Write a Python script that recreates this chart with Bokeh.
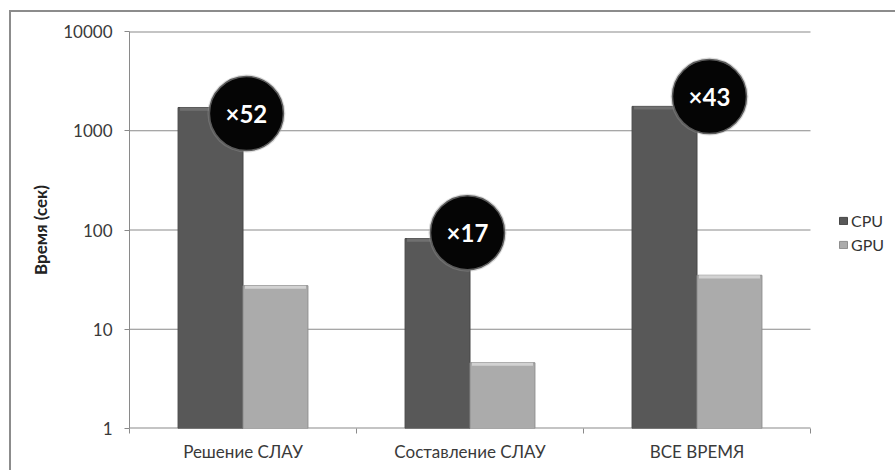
import numpy as np
from bokeh.plotting import figure
from bokeh.models import (Range1d, FixedTicker, NumeralTickFormatter, Legend, LegendItem,
                          ColumnDataSource)
from bokeh.core.properties import value
from bokeh.embed import file_html
from bokeh.resources import INLINE

# ---- data ----
categories = ["Решение СЛАУ", "Составление СЛАУ", "ВСЕ ВРЕМЯ"]
cpu_times = [1715, 82, 1760]
gpu_times = [27.5, 4.6, 35]
speedup_labels = ["×52", "×17", "×43"]
badge_x_offset = [0.015, -0.011, 0.055]   # badge position relative to category center
badge_y = [1490, 94, 2210]
y_ticks = [1, 10, 100, 1000, 10000]
series_names = ["CPU", "GPU"]

FONT = "Lato"
GRID = "#8a8a8a"
bar_w = 0.286
n = len(categories)
centers = np.arange(n) + 0.5

# layout (pixels)
W, H = 895, 470
BL, BR, BT, BB = 129, 2, 31, 42
plot_w = 681                      # width of the category area
frame_w = W - BL - BR
x_end = n * frame_w / plot_w      # extra room on the right holds the legend

p = figure(width=W, height=H, output_backend="svg", toolbar_location=None,
           y_axis_type="log", x_range=Range1d(0, x_end), y_range=Range1d(1, 10000),
           min_border_left=BL, min_border_right=BR, min_border_top=BT, min_border_bottom=BB)
p.styles = {
    "background": "linear-gradient(#8c8c8c,#8c8c8c) 9px 10px / 2px 100% no-repeat, "
                  "linear-gradient(#8c8c8c,#8c8c8c) 9px 10px / 100% 2px no-repeat, white",
}
p.outline_line_color = None
p.background_fill_color = None
p.border_fill_color = None

# grid lines limited to category area
p.segment(x0=0, x1=n, y0=y_ticks[1:-1], y1=y_ticks[1:-1], line_color=GRID, line_width=1)
p.segment(x0=0, x1=n, y0=[y_ticks[-1], y_ticks[0]], y1=[y_ticks[-1], y_ticks[0]],
          line_color=GRID, line_width=2)

# bars
cpu_src = ColumnDataSource(dict(x=centers - bar_w / 2, top=cpu_times))
gpu_src = ColumnDataSource(dict(x=centers + bar_w / 2, top=gpu_times))
r_cpu = p.vbar(x="x", top="top", bottom=1, width=bar_w, source=cpu_src,
               fill_color="#585858", line_color="#474747", line_width=1)
r_gpu = p.vbar(x="x", top="top", bottom=1, width=bar_w, source=gpu_src,
               fill_color="#ababab", line_color="#8e8e8e", line_width=1)
# bevel highlights on bar tops
p.vbar(x=centers - bar_w / 2, top=cpu_times, bottom=[v * 0.93 for v in cpu_times],
       width=bar_w * 0.94, fill_color="#707070", line_color=None)
p.vbar(x=centers + bar_w / 2, top=gpu_times, bottom=[v * 0.93 for v in gpu_times],
       width=bar_w * 0.94, fill_color="#d2d2d2", line_color=None)

# badges
bx = [c + o for c, o in zip(centers, badge_x_offset)]
p.scatter(x=bx, y=badge_y, size=78, marker="circle", fill_color="#9a9a9a", fill_alpha=0.35,
          line_color=None)
p.scatter(x=bx, y=badge_y, size=74, marker="circle", fill_color="#050505",
          line_color="#5a5a5a", line_width=1.5)
p.text(x=bx, y=badge_y, text=speedup_labels, text_color="white", text_align="center",
       text_baseline="middle", text_font=value(FONT), text_font_style="bold",
       text_font_size="24px")

# axes
p.yaxis.ticker = FixedTicker(ticks=y_ticks)
p.yaxis.formatter = NumeralTickFormatter(format="0")
p.yaxis.axis_label = "Время (сек)"
p.yaxis.axis_label_text_font = FONT
p.yaxis.axis_label_text_font_style = "bold"
p.yaxis.axis_label_text_font_size = "17px"
p.yaxis.axis_label_text_color = "#222222"
p.yaxis.axis_label_standoff = 9
p.yaxis.major_label_text_font = FONT
p.yaxis.major_label_text_font_size = "17px"
p.yaxis.major_label_text_color = "#3a3a3a"
p.yaxis.major_label_standoff = 12
p.yaxis.major_tick_out = 5
p.yaxis.major_tick_in = 0
p.yaxis.minor_tick_line_color = None
p.yaxis.axis_line_color = GRID
p.yaxis.major_tick_line_color = GRID

p.xaxis.ticker = FixedTicker(ticks=list(centers), minor_ticks=list(range(n + 1)))
p.xaxis.major_label_overrides = {float(c): cat for c, cat in zip(centers, categories)}
p.xaxis.major_label_text_font = FONT
p.xaxis.major_label_text_font_size = "17px"
p.xaxis.major_label_text_color = "#3a3a3a"
p.xaxis.major_label_standoff = 7
p.xaxis.major_tick_line_color = None
p.xaxis.major_tick_out = 0
p.xaxis.minor_tick_out = 5
p.xaxis.minor_tick_in = 0
p.xaxis.minor_tick_line_color = GRID
p.xaxis.axis_line_color = None

p.xgrid.grid_line_color = None
p.ygrid.grid_line_color = None

legend = Legend(items=[LegendItem(label=series_names[0], renderers=[r_cpu]),
                       LegendItem(label=series_names[1], renderers=[r_gpu])],
                location=(709, 174), orientation="vertical",
                label_text_font=FONT, label_text_font_size="16px", label_text_color="#333333",
                glyph_width=10, glyph_height=9, label_height=16, spacing=5,
                label_standoff=3, padding=0, margin=0,
                border_line_color=None, background_fill_alpha=0)
p.add_layout(legend)

open("out.html", "w").write(file_html(p, INLINE))
